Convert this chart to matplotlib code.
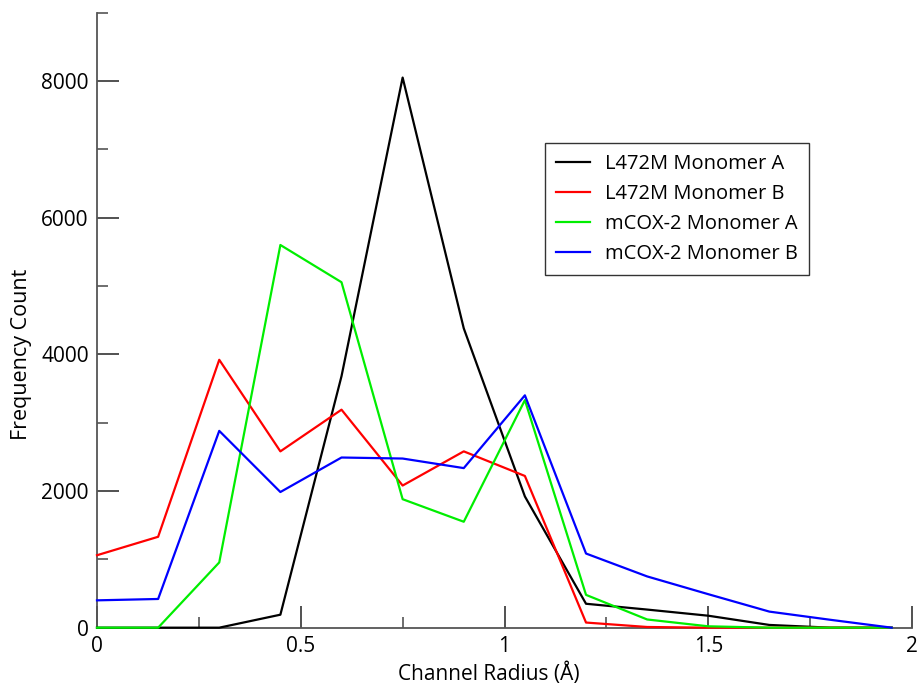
import numpy as np
import matplotlib
matplotlib.use("Agg")
import matplotlib.pyplot as plt
from matplotlib.ticker import MultipleLocator

plt.rcParams['font.family'] = ['Open Sans', 'DejaVu Sans']

# channel radius bins (Å)
radius = [0.0, 0.15, 0.30, 0.45, 0.60, 0.75, 0.90, 1.05, 1.20, 1.35, 1.50, 1.65, 1.80, 1.95]

l472m_a = [0, 0, 0, 190, 3680, 8050, 4380, 1920, 350, 265, 175, 40, 0, 0]
l472m_b = [1060, 1330, 3920, 2580, 3190, 2080, 2580, 2220, 75, 10, 0, 0, 0, 0]
mcox2_a = [0, 0, 955, 5600, 5055, 1880, 1550, 3330, 480, 120, 20, 0, 0, 0]
mcox2_b = [400, 420, 2880, 1985, 2490, 2475, 2335, 3400, 1085, 750, 490, 235, 115, 0]

series = [
    ("L472M Monomer A", l472m_a, "#000000"),
    ("L472M Monomer B", l472m_b, "#ff0000"),
    ("mCOX-2 Monomer A", mcox2_a, "#00ee00"),
    ("mCOX-2 Monomer B", mcox2_b, "#0000ff"),
]

fig = plt.figure(figsize=(9.22, 6.83), dpi=100)
ax = fig.add_axes([0.1052, 0.081, 0.884, 0.9005])

for name, vals, col in series:
    ax.plot(radius, vals, color=col, linewidth=1.6, label=name, clip_on=False, zorder=3)

ax.set_xlim(0, 2)
ax.set_ylim(0, 9000)
ax.xaxis.set_major_locator(MultipleLocator(0.5))
ax.xaxis.set_minor_locator(MultipleLocator(0.25))
ax.yaxis.set_major_locator(MultipleLocator(2000))
ax.yaxis.set_minor_locator(MultipleLocator(1000))
ax.xaxis.set_major_formatter(plt.FuncFormatter(lambda v, p: f"{v:g}"))

for s in ["top", "right"]:
    ax.spines[s].set_visible(False)
for s in ["left", "bottom"]:
    ax.spines[s].set_color("#555555")
    ax.spines[s].set_linewidth(1.3)

ax.tick_params(which="major", direction="in", length=16, width=1.2, color="#333333",
               labelsize=15, pad=6)
ax.tick_params(which="minor", direction="in", length=8, width=1.2, color="#555555")

ax.set_xlabel("Channel Radius (Å)", fontsize=15)
ax.set_ylabel("Frequency Count", fontsize=15.5)
ax.xaxis.set_label_coords(0.481, -0.056)
ax.yaxis.set_label_coords(-0.080, 0.445)

leg = ax.legend(loc="upper left", bbox_to_anchor=(0.5497, 0.788), borderaxespad=0,
                fontsize=14.5, frameon=True, fancybox=False, handlelength=1.7,
                labelspacing=0.5, borderpad=0.55, handletextpad=0.75)
leg.get_frame().set_edgecolor("#000000")
leg.get_frame().set_linewidth(1.0)

fig.savefig("out.png", dpi=100)
